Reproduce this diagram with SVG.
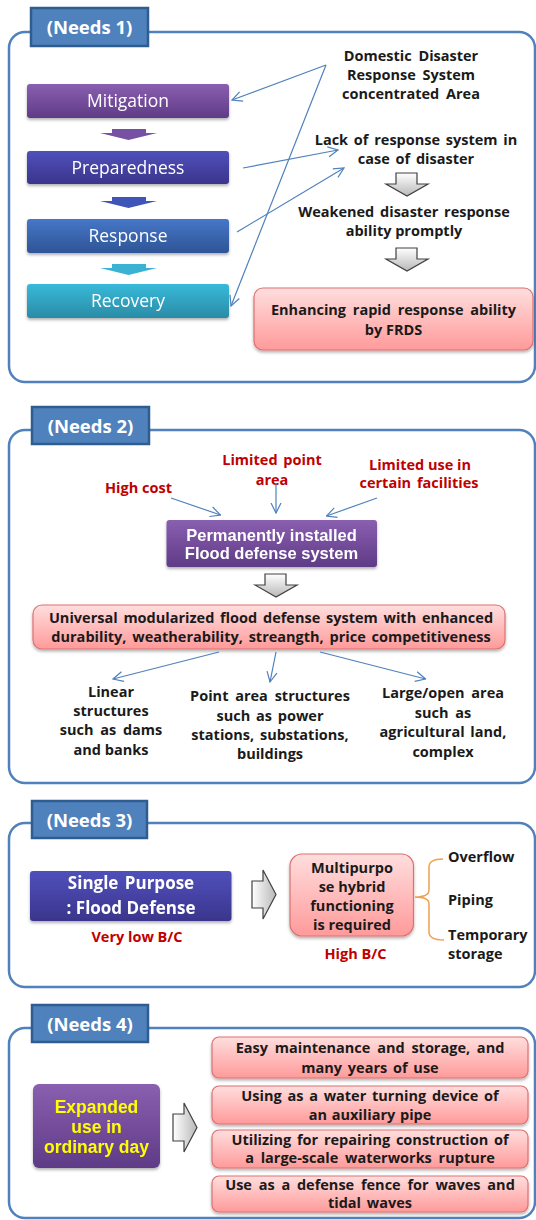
<svg xmlns="http://www.w3.org/2000/svg" width="536" height="1220" viewBox="0 0 536 1220">
<defs>
<style>
.panel{fill:#fff;stroke:#4f81bd;stroke-width:2.5}
.hdr{fill:#4f81bd;stroke:#2f5d8f;stroke-width:2.5}
.hdrt{font-family:"Open Sans","Liberation Sans",sans-serif;font-weight:bold;font-size:18.5px;fill:#fff;text-anchor:middle}
.t{font-family:"Open Sans","Liberation Sans",sans-serif;font-weight:bold;font-size:14.5px;fill:#1a1a1a;text-anchor:middle}
.red{fill:#c00000}
.wt{font-family:"Open Sans","Liberation Sans",sans-serif;font-size:17.5px;fill:#fff;text-anchor:middle}
.wb{font-family:"Liberation Sans","Open Sans",sans-serif;font-weight:bold;font-size:16.5px;fill:#fff;text-anchor:middle}
.pink{fill:url(#gPink);stroke:#e07070;stroke-width:1.2}
.conn{fill:none;stroke:#4f81bd;stroke-width:1.2}
.garrow{fill:url(#gGray);stroke:#404040;stroke-width:1.2}
</style>
<linearGradient id="gPink" x1="0" y1="0" x2="0" y2="1"><stop offset="0" stop-color="#ffdede"/><stop offset="1" stop-color="#ff9a9a"/></linearGradient>
<linearGradient id="gGray" x1="0" y1="0" x2="0" y2="1"><stop offset="0" stop-color="#ffffff"/><stop offset="1" stop-color="#b8b8b8"/></linearGradient>
<linearGradient id="gGrayH" x1="0" y1="0" x2="1" y2="0"><stop offset="0" stop-color="#ffffff"/><stop offset="1" stop-color="#b8b8b8"/></linearGradient>
<linearGradient id="gMit" x1="0" y1="0" x2="0" y2="1"><stop offset="0" stop-color="#8a5fb0"/><stop offset="1" stop-color="#5f3b86"/></linearGradient>
<linearGradient id="gPrep" x1="0" y1="0" x2="0" y2="1"><stop offset="0" stop-color="#5050bb"/><stop offset="1" stop-color="#3a358c"/></linearGradient>
<linearGradient id="gResp" x1="0" y1="0" x2="0" y2="1"><stop offset="0" stop-color="#4677c8"/><stop offset="1" stop-color="#2f5496"/></linearGradient>
<linearGradient id="gRec" x1="0" y1="0" x2="0" y2="1"><stop offset="0" stop-color="#38b9d9"/><stop offset="1" stop-color="#2a8ca6"/></linearGradient>
<filter id="sh" x="-10%" y="-10%" width="120%" height="140%"><feDropShadow dx="0" dy="2" stdDeviation="1.5" flood-color="#000" flood-opacity="0.3"/></filter>
<marker id="ah" viewBox="0 0 12 12" refX="11" refY="6" markerWidth="12" markerHeight="12" markerUnits="userSpaceOnUse" orient="auto"><path d="M1,1 L11,6 L1,11" fill="none" stroke="#4f81bd" stroke-width="1.2"/></marker>
<path id="downArrow" d="M10,0 H31 V11 H42 L21,23 L0,11 H10 Z"/>
<path id="rightArrow" d="M0,11 H11 V0 L24,24.5 L11,49 V38 H0 Z"/>
</defs>
<rect width="536" height="1220" fill="#fff"/>

<!-- Needs 1 -->
<g id="needs1">
<rect class="panel" x="9" y="32" width="526" height="350" rx="16"/>
<rect class="hdr" x="31" y="8" width="117" height="38"/>
<text class="hdrt" x="89.5" y="33.5">(Needs 1)</text>
</g>
<g id="mitigation" filter="url(#sh)"><rect x="27" y="84" width="202" height="34" rx="3" fill="url(#gMit)"/><text class="wt" x="128" y="107">Mitigation</text></g>
<g id="preparedness" filter="url(#sh)"><rect x="27" y="151" width="202" height="33" rx="3" fill="url(#gPrep)"/><text class="wt" x="128" y="173.5">Preparedness</text></g>
<g id="response" filter="url(#sh)"><rect x="27" y="219" width="202" height="34" rx="3" fill="url(#gResp)"/><text class="wt" x="128" y="242">Response</text></g>
<g id="recovery" filter="url(#sh)"><rect x="27" y="284" width="202" height="34" rx="3" fill="url(#gRec)"/><text class="wt" x="128" y="307">Recovery</text></g>
<g id="chevrons">
<path d="M112,129 H146 V133 H157 L128.5,140 L100,133 H112 Z" fill="#7550a3"/>
<path d="M112,197 H146 V201 H157 L128.5,208 L100,201 H112 Z" fill="#3f55b8"/>
<path d="M112,264 H146 V268 H157 L128.5,275 L100,268 H112 Z" fill="#3ab3d3"/>
</g>
<g id="domestic"><text class="t" x="411" y="61" word-spacing="3">Domestic Disaster</text><text class="t" x="411" y="80" word-spacing="3">Response System</text><text class="t" x="411" y="99" word-spacing="3">concentrated Area</text></g>
<g id="lack"><text class="t" x="416" y="145" word-spacing="2">Lack of response system in</text><text class="t" x="416" y="164" word-spacing="2">case of disaster</text></g>
<use href="#downArrow" class="garrow" x="386" y="173"/>
<g id="weakened"><text class="t" x="404" y="217" word-spacing="2">Weakened disaster response</text><text class="t" x="404" y="236">ability promptly</text></g>
<use href="#downArrow" class="garrow" x="386" y="248"/>
<g id="enhancing"><rect class="pink" x="254" y="288" width="279" height="62" rx="9" filter="url(#sh)"/><text class="t" x="393.5" y="315" word-spacing="3">Enhancing rapid response ability</text><text class="t" x="393.5" y="335">by FRDS</text></g>

<!-- Needs 2 -->
<g id="needs2">
<rect class="panel" x="9" y="430" width="526" height="353" rx="16"/>
<rect class="hdr" x="32" y="407" width="117" height="37"/>
<text class="hdrt" x="90.5" y="432.5">(Needs 2)</text>
</g>
<g id="limits">
<text class="t red" x="138.5" y="493">High cost</text>
<text class="t red" x="272" y="465" word-spacing="2">Limited point</text>
<text class="t red" x="272" y="485">area</text>
<text class="t red" x="420" y="470">Limited use in</text>
<text class="t red" x="419" y="488" word-spacing="2">certain facilities</text>
</g>
<g id="permanent" filter="url(#sh)"><rect x="166.5" y="520" width="210.5" height="47" rx="3" fill="url(#gMit)"/><text class="wb" x="271.5" y="541">Permanently installed</text><text class="wb" x="271.5" y="559">Flood defense system</text></g>
<use href="#downArrow" class="garrow" x="255" y="574"/>
<g id="universal"><rect class="pink" x="33" y="605" width="472" height="44" rx="9" filter="url(#sh)"/><text class="t" x="271" y="623" word-spacing="2">Universal modularized flood defense system with enhanced</text><text class="t" x="271" y="642" word-spacing="2">durability, weatherability, streangth, price competitiveness</text></g>
<g id="linear"><text class="t" x="111" y="697">Linear</text><text class="t" x="111" y="716">structures</text><text class="t" x="111" y="735" word-spacing="3">such as dams</text><text class="t" x="111" y="755">and banks</text></g>
<g id="point"><text class="t" x="270" y="701" word-spacing="3">Point area structures</text><text class="t" x="270" y="721" word-spacing="2">such as power</text><text class="t" x="270" y="740" word-spacing="2">stations, substations,</text><text class="t" x="270" y="759">buildings</text></g>
<g id="large"><text class="t" x="443" y="698" word-spacing="3">Large/open area</text><text class="t" x="443" y="718" word-spacing="3">such as</text><text class="t" x="443" y="737" word-spacing="2">agricultural land,</text><text class="t" x="443" y="757">complex</text></g>

<!-- Needs 3 -->
<g id="needs3">
<rect class="panel" x="9" y="823" width="526" height="164" rx="16"/>
<rect class="hdr" x="32" y="801" width="115" height="37"/>
<text class="hdrt" x="89.5" y="826.5">(Needs 3)</text>
</g>
<g id="single" filter="url(#sh)"><rect x="30" y="871" width="201.5" height="50" rx="3" fill="url(#gPrep)"/><text class="wb" x="131" y="889" style="font-family:'Open Sans','Liberation Sans',sans-serif;font-size:17px" word-spacing="2">Single Purpose</text><text class="wb" x="131" y="914" style="font-family:'Open Sans','Liberation Sans',sans-serif;font-size:17px">: Flood Defense</text></g>
<text class="t red" x="137" y="942">Very low B/C</text>
<use href="#rightArrow" x="252" y="870" fill="url(#gGrayH)" stroke="#404040" stroke-width="1.2"/>
<g id="multi"><rect class="pink" x="290" y="854" width="123.5" height="82" rx="12" filter="url(#sh)"/><text class="t" x="352" y="873">Multipurpo</text><text class="t" x="352" y="892">se hybrid</text><text class="t" x="352" y="911">functioning</text><text class="t" x="352" y="930">is required</text></g>
<text class="t red" x="355.5" y="959">High B/C</text>
<path d="M443,859 Q429,859 429,867 V890 Q429,897 415,897 Q429,897 429,904 V932 Q429,940 444,940" fill="none" stroke="#f0a050" stroke-width="1.5"/>
<g id="purposes">
<text class="t" x="448" y="862" style="text-anchor:start">Overflow</text>
<text class="t" x="448" y="905" style="text-anchor:start">Piping</text>
<text class="t" x="448" y="940" style="text-anchor:start">Temporary</text>
<text class="t" x="448" y="959" style="text-anchor:start">storage</text>
</g>

<!-- Needs 4 -->
<g id="needs4">
<rect class="panel" x="9" y="1028" width="526" height="190" rx="16"/>
<rect class="hdr" x="32" y="1005" width="116" height="37"/>
<text class="hdrt" x="90" y="1030.5">(Needs 4)</text>
</g>
<g id="expanded" filter="url(#sh)"><rect x="33" y="1084" width="127" height="84" rx="6" fill="url(#gMit)"/>
<text class="wb" x="96.5" y="1113" style="fill:#ffff00;font-size:17.5px">Expanded</text>
<text class="wb" x="96.5" y="1133" style="fill:#ffff00;font-size:17.5px">use in</text>
<text class="wb" x="96.5" y="1152.5" style="fill:#ffff00;font-size:17.5px">ordinary day</text></g>
<use href="#rightArrow" x="173" y="1103" fill="url(#gGrayH)" stroke="#404040" stroke-width="1.2"/>
<g id="use1"><rect class="pink" x="212" y="1037" width="316" height="41" rx="7" filter="url(#sh)"/><text class="t" x="370" y="1053" word-spacing="3">Easy maintenance and storage, and</text><text class="t" x="370" y="1073" word-spacing="2">many years of use</text></g>
<g id="use2"><rect class="pink" x="212" y="1086" width="316" height="38" rx="7" filter="url(#sh)"/><text class="t" x="370" y="1101" word-spacing="2">Using as a water turning device of</text><text class="t" x="370" y="1120" word-spacing="1">an auxiliary pipe</text></g>
<g id="use3"><rect class="pink" x="212" y="1130" width="316" height="38" rx="7" filter="url(#sh)"/><text class="t" x="370" y="1145" word-spacing="2">Utilizing for repairing construction of</text><text class="t" x="370" y="1163" word-spacing="3">a large-scale waterworks rupture</text></g>
<g id="use4"><rect class="pink" x="212" y="1176" width="316" height="36" rx="7" filter="url(#sh)"/><text class="t" x="370" y="1190" word-spacing="3">Use as a defense fence for waves and</text><text class="t" x="370" y="1208" word-spacing="2">tidal waves</text></g>

<g id="connectors">
<path class="conn" d="M326,65 L232,100" marker-end="url(#ah)"/>
<path class="conn" d="M326,65 L231,306" marker-end="url(#ah)"/>
<path class="conn" d="M243,168 L338,150" marker-end="url(#ah)"/>
<path class="conn" d="M237,232 L344,168" marker-end="url(#ah)"/>
<path class="conn" d="M171,498 L220.5,515" marker-end="url(#ah)"/>
<path class="conn" d="M276,483 L276,513" marker-end="url(#ah)"/>
<path class="conn" d="M377,498 L326.5,516" marker-end="url(#ah)"/>
<path class="conn" d="M219,652 L113,679" marker-end="url(#ah)"/>
<path class="conn" d="M276,652 L270,682" marker-end="url(#ah)"/>
<path class="conn" d="M320,652 L425.6,679" marker-end="url(#ah)"/>
</g>
</svg>
